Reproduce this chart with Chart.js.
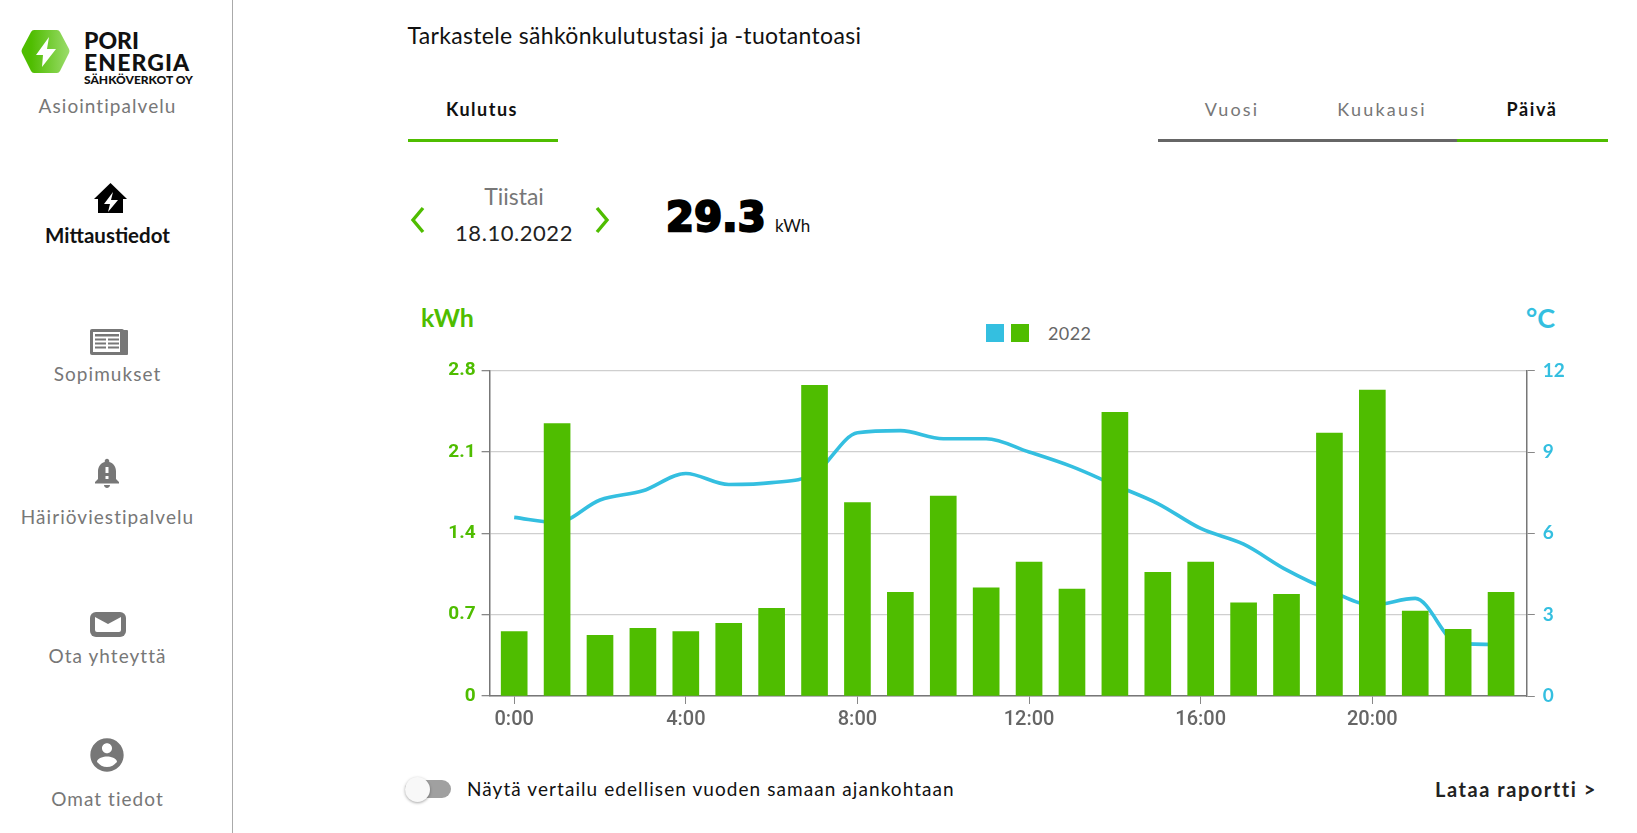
<!DOCTYPE html>
<html lang="fi">
<head>
<meta charset="utf-8">
<title>Mittaustiedot</title>
<script src="https://cdn.jsdelivr.net/npm/chart.js@4"></script>
<style>
  html, body { margin: 0; padding: 0; background: #fff; overflow: hidden; }
  body { width: 1637px; height: 833px; position: relative; font-family: Lato, sans-serif; color: #111; }
  .t { position: absolute; white-space: nowrap; line-height: 1; transform: translateY(-50%); }
  .c { transform: translate(-50%, -50%); }
  .nav { left: 107.5px; font-size: 19px; letter-spacing: 1.05px; color: #777; }
  .abs { position: absolute; }
  #sidebar { position: absolute; left: 232px; top: 0; width: 1px; height: 833px; background: #aaa; }
  #chartBox { position: absolute; left: 430px; top: 345px; width: 1150px; height: 400px; }
</style>
</head>
<body>
<div id="sidebar"></div>

<svg class="abs" style="left:21px;top:29px" width="49" height="45" viewBox="0 0 49 45">
  <defs><linearGradient id="logoGrad" x1="0" x2="1" y1="0" y2="0"><stop offset="0.2" stop-color="#4fbd00"/><stop offset="1" stop-color="#9bdc6b"/></linearGradient></defs>
  <path d="M13 1 H36 Q38 1 39 3 L48 20 Q49 22 48 24 L39 42 Q38 44 36 44 H13 Q11 44 10 42 L1 24 Q0 22 1 20 L10 3 Q11 1 13 1 Z" fill="url(#logoGrad)"/>
  <path d="M28 8 L15 26 H22 L21 38 L35 20 H26 Z" fill="#fff"/>
</svg>
<div class="t" style="left:84px;top:40px;font-size:23px;font-weight:900">PORI</div>
<div class="t" style="left:84px;top:61.5px;font-size:23px;font-weight:900;letter-spacing:1.1px">ENERGIA</div>
<div class="t" style="left:84px;top:79.5px;font-size:12px;font-weight:900">SÄHKÖVERKOT OY</div>
<div class="t c nav" style="top:104.5px">Asiointipalvelu</div>

<svg class="abs" style="left:94px;top:183px" width="33" height="31" viewBox="0 0 33 31">
  <path d="M16.5 0 L33 16 H29 V30 H4 V16 H0 Z" fill="#000"/>
  <path d="M19 9 L10 21 H16 L14 29 L24 17 H17 Z" fill="#fff"/>
</svg>
<div class="t c" style="left:107.5px;top:234.5px;font-size:20.5px;font-weight:700;color:#111">Mittaustiedot</div>

<svg class="abs" style="left:90px;top:329px" width="38" height="26" viewBox="0 0 38 26">
  <rect x="0" y="0" width="34" height="26" rx="2" fill="#777"/>
  <rect x="31" y="1" width="7" height="25" rx="1" fill="#777"/>
  <rect x="3" y="3" width="27" height="20" fill="#fff"/>
  <rect x="5" y="5" width="24" height="2.5" fill="#777"/>
  <rect x="5" y="9.5" width="11" height="2" fill="#777"/><rect x="18" y="9.5" width="11" height="2" fill="#777"/>
  <rect x="5" y="13.5" width="11" height="2" fill="#777"/><rect x="18" y="13.5" width="11" height="2" fill="#777"/>
  <rect x="5" y="17.5" width="11" height="2" fill="#777"/><rect x="18" y="17.5" width="11" height="2" fill="#777"/>
</svg>
<div class="t c nav" style="top:373px">Sopimukset</div>

<svg class="abs" style="left:89px;top:455px" width="36" height="36" viewBox="0 0 24 24">
  <path fill="#777" d="M18 16v-5c0-3.07-1.63-5.64-4.5-6.32V4c0-.83-.67-1.5-1.5-1.5s-1.5.67-1.5 1.5v.68C7.64 5.36 6 7.92 6 11v5l-2 2v1h16v-1l-2-2zm-5 0h-2v-2h2v2zm0-4h-2V8h2v4zm-1 10c1.1 0 2-.9 2-2h-4c0 1.1.9 2 2 2z"/>
</svg>
<div class="t c nav" style="top:516px">Häiriöviestipalvelu</div>

<svg class="abs" style="left:90px;top:612px" width="36" height="25" viewBox="0 0 36 25">
  <rect x="0" y="0" width="36" height="25" rx="6" fill="#777"/>
  <path d="M5 5 L18 12 L31 5 V18 Q31 20 29 20 H7 Q5 20 5 18 Z" fill="#fff"/>
</svg>
<div class="t c nav" style="top:655px">Ota yhteyttä</div>

<svg class="abs" style="left:87px;top:735px" width="40" height="40" viewBox="0 0 24 24">
  <path fill="#777" d="M12 2C6.48 2 2 6.48 2 12s4.48 10 10 10 10-4.48 10-10S17.52 2 12 2zm0 3c1.66 0 3 1.34 3 3s-1.34 3-3 3-3-1.34-3-3 1.34-3 3-3zm0 14.2c-2.5 0-4.71-1.28-6-3.22.03-1.99 4-3.08 6-3.08 1.99 0 5.97 1.09 6 3.08-1.29 1.94-3.5 3.22-6 3.22z"/>
</svg>
<div class="t c nav" style="top:798px">Omat tiedot</div>

<div class="t" style="left:407.5px;top:34.5px;font-size:23px;letter-spacing:.33px">Tarkastele sähkönkulutustasi ja -tuotantoasi</div>

<div class="t c" style="left:482px;top:109px;font-size:18px;font-weight:700;letter-spacing:1.5px">Kulutus</div>
<div class="abs" style="left:408px;top:139px;width:150px;height:3px;background:#4fbd00"></div>
<div class="t c" style="left:1232px;top:109px;font-size:18px;letter-spacing:2.2px;color:#777">Vuosi</div>
<div class="t c" style="left:1382px;top:109px;font-size:18px;letter-spacing:2.2px;color:#777">Kuukausi</div>
<div class="t c" style="left:1532px;top:109px;font-size:18px;font-weight:700;letter-spacing:1.6px">Päivä</div>
<div class="abs" style="left:1158px;top:139px;width:299px;height:3px;background:#666"></div>
<div class="abs" style="left:1457px;top:139px;width:151px;height:3px;background:#4fbd00"></div>

<svg class="abs" style="left:410px;top:205px" width="16" height="30" viewBox="0 0 16 30"><path d="M13 3 L3 15 L13 27" fill="none" stroke="#4fbd00" stroke-width="3.4"/></svg>
<svg class="abs" style="left:594px;top:205px" width="16" height="30" viewBox="0 0 16 30"><path d="M3 3 L13 15 L3 27" fill="none" stroke="#4fbd00" stroke-width="3.4"/></svg>
<div class="t c" style="left:514px;top:196px;font-size:23px;color:#777">Tiistai</div>
<div class="t c" style="left:514px;top:232.5px;font-size:22px;letter-spacing:.55px;color:#222">18.10.2022</div>
<div class="t" style="left:666px;top:217px;font-size:40px;font-weight:700;font-family:'DejaVu Sans';-webkit-text-stroke:2.4px #000;color:#000;letter-spacing:.3px">29.3</div>
<div class="t" style="left:775px;top:225px;font-size:17px">kWh</div>

<div class="t" style="left:421px;top:317px;font-size:25px;font-weight:700;color:#4fbd00">kWh</div>
<div class="t" style="left:1526px;top:317px;font-size:27px;font-weight:700;color:#34bfe0">°C</div>

<div class="abs" style="left:986px;top:324px;width:18px;height:18px;background:#34bfe0"></div>
<div class="abs" style="left:1011px;top:324px;width:18px;height:18px;background:#4fbd00"></div>
<div class="t" style="left:1048px;top:332.5px;font-size:18px;letter-spacing:.4px;color:#666">2022</div>

<div id="chartBox"><canvas id="myChart" width="1150" height="400"></canvas></div>

<div class="abs" style="left:405px;top:780px;width:46px;height:18px;border-radius:9px;background:#a0a0a0"></div>
<div class="abs" style="left:405px;top:776.5px;width:25px;height:25px;border-radius:50%;background:#f8f8f8;box-shadow:0 1px 3px rgba(0,0,0,.35)"></div>
<div class="t" style="left:467px;top:788px;font-size:19px;letter-spacing:1.07px;color:#111">Näytä vertailu edellisen vuoden samaan ajankohtaan</div>
<div class="t" style="left:1435px;top:789px;font-size:20px;font-weight:700;letter-spacing:1.55px;color:#222">Lataa raportti &gt;</div>

<script>
const green = "#4fbd00";
const blue = "#34bfe0";

// tunnit 0-23
let hours = [];
for (let i = 0; i < 24; i++) {
  hours.push(i);
}

const kwh = [
  0.554, 2.344, 0.522, 0.582, 0.554, 0.625, 0.754, 2.674, 1.664, 0.892, 1.721, 0.932,
  1.153, 0.921, 2.441, 1.064, 1.153, 0.803, 0.875, 2.263, 2.633, 0.731, 0.574, 0.892,
];

const temperature = [
  6.59, 6.4, 7.23, 7.57, 8.21, 7.8, 7.87, 8.2, 9.71, 9.79, 9.49, 9.49,
  9.0, 8.46, 7.78, 7.1, 6.18, 5.6, 4.65, 3.9, 3.36, 3.6, 1.94, 1.9,
];

function toPoints(values) {
  return values.map((v, i) => ({ x: hours[i], y: v }));
}

new Chart(document.getElementById("myChart"), {
  type: "bar",
  data: {
    datasets: [
      {
        label: "2022",
        data: toPoints(kwh),
        backgroundColor: green,
        barThickness: 26,
        yAxisID: "y",
        order: 1,
      },
      {
        type: "line",
        label: "°C",
        data: toPoints(temperature),
        borderColor: blue,
        borderWidth: 3.6,
        pointRadius: 0,
        cubicInterpolationMode: "monotone",
        yAxisID: "y1",
        order: 2,
      },
    ],
  },
  options: {
    responsive: false,
    animation: false,
    layout: { padding: { top: 25.7 } },
    plugins: { legend: { display: false }, tooltip: { enabled: false } },
    scales: {
      x: {
        type: "linear",
        offset: false,
        min: -0.573,
        max: 23.6,
        grid: { offset: false, drawOnChartArea: false, tickLength: 8, tickColor: "#888" },
        border: { color: "#777", width: 1.5 },
        ticks: {
          stepSize: 4,
          includeBounds: false,
          maxRotation: 0,
          padding: 4,
          color: "#666",
          font: { family: "Roboto", size: 20, weight: "500" },
          callback: (v) => `${v}:00`,
        },
        afterFit: (scale) => { scale.height = 49; },
      },
      y: {
        min: 0,
        max: 2.8,
        position: "left",
        grid: { color: "#cfcfcf", lineWidth: 1.3, tickLength: 8, tickColor: "#888" },
        border: { color: "#777", width: 1.5 },
        ticks: {
          stepSize: 0.7,
          includeBounds: false,
          padding: 6,
          color: green,
          font: { family: "Roboto", size: 19, weight: "700" },
        },
        afterFit: (scale) => { scale.width = 59.6; },
      },
      y1: {
        min: 0,
        max: 12,
        position: "right",
        grid: { drawOnChartArea: false, tickLength: 8, tickColor: "#888" },
        border: { color: "#777", width: 1.5 },
        ticks: {
          stepSize: 3,
          padding: 8,
          color: blue,
          font: { family: "Lato", size: 19, weight: "700" },
        },
        afterFit: (scale) => { scale.width = 53.2; },
      },
    },
  },
});
</script>
</body>
</html>
